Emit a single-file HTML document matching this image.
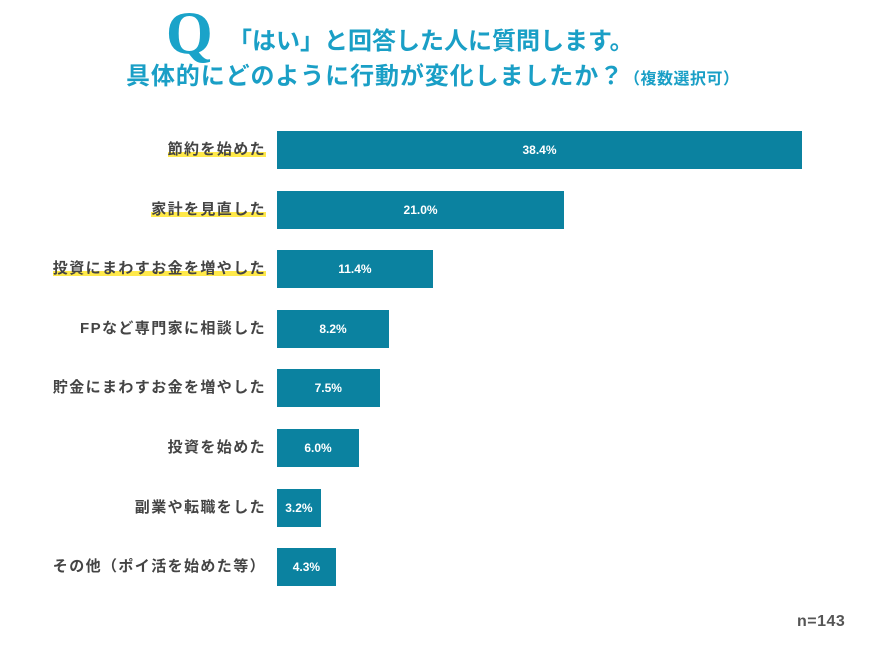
<!DOCTYPE html>
<html><head><meta charset="utf-8"><style>
body{margin:0;width:870px;height:650px;background:#fff;font-family:"Liberation Sans","Noto Sans CJK JP",sans-serif;overflow:hidden;position:relative}
.t{position:absolute;color:#1a9fc6;font-weight:bold;white-space:nowrap}
.lab{position:absolute;right:604px;font-size:15px;font-weight:bold;color:#444;white-space:nowrap;line-height:20px;letter-spacing:1.4px}
.hl{background:linear-gradient(transparent 65%,#ffe94a 65%,#ffe94a 95%,transparent 95%)}
.bar{position:absolute;left:277px;height:38px;background:#0b82a0}
.val{position:absolute;color:#fff;font-size:12px;font-weight:bold;line-height:38px;text-align:center}
</style></head><body>
<div class="t" style="left:166px;top:0px;font-family:'Liberation Serif',serif;font-size:60px;line-height:66px;color:#1aa3c9">Q</div>
<div class="t" style="left:228px;top:27px;font-size:24px;line-height:30px">「はい」と回答した人に質問します。</div>
<div class="t" style="left:126px;top:62px;font-size:24px;line-height:30px;letter-spacing:0.9px">具体的にどのように行動が変化しましたか？<span style="font-size:16px;letter-spacing:0.5px">（複数選択可）</span></div>
<div id="chart"></div>
<div style="position:absolute;left:797px;top:613px;font-size:16px;font-weight:bold;color:#555;letter-spacing:0.5px">n=143</div>
<script>
const categories=["節約を始めた","家計を見直した","投資にまわすお金を増やした","FPなど専門家に相談した","貯金にまわすお金を増やした","投資を始めた","副業や転職をした","その他（ポイ活を始めた等）"];
const values=[38.4,21.0,11.4,8.2,7.5,6.0,3.2,4.3];
const highlighted=[true,true,true,false,false,false,false,false];
const x0=277,scale=525/38.4,y0=131,pitch=59.6;
const xs=v=>v*scale;
const c=document.getElementById('chart');
categories.forEach((cat,i)=>{
 const y=y0+i*pitch;
 const l=document.createElement('div');l.className='lab';l.style.top=(y+9)+'px';
 l.innerHTML='<span'+(highlighted[i]?' class="hl"':'')+'>'+cat+'</span>';
 
 
 c.appendChild(l);
 const b=document.createElement('div');b.className='bar';b.style.top=y+'px';b.style.width=xs(values[i])+'px';
 
 
 c.appendChild(b);
 const t=document.createElement('div');t.className='val';t.style.top=y+'px';t.style.left=x0+'px';t.style.width=xs(values[i])+'px';
 t.textContent=values[i].toFixed(1)+'%';
 
 
 c.appendChild(t);
});
</script>
</body></html>
